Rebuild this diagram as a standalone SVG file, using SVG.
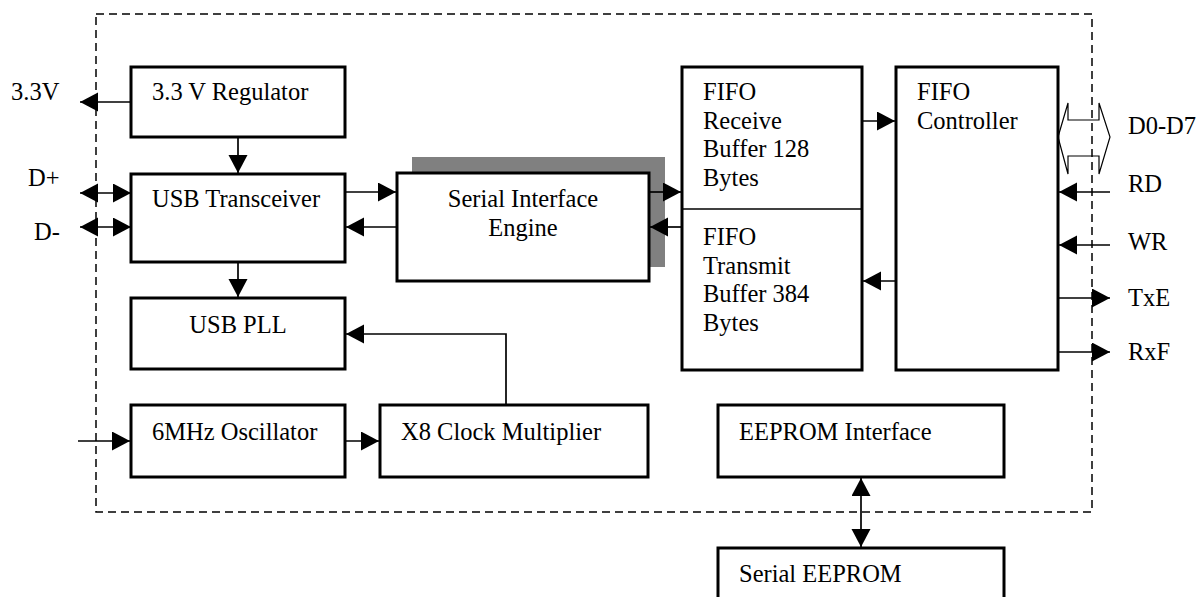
<svg xmlns="http://www.w3.org/2000/svg" width="1201" height="597" viewBox="0 0 1201 597">
<style>
text{font-family:"Liberation Serif","Times New Roman",serif;font-size:24.5px;fill:#000}
.box{fill:#fff;stroke:#000;stroke-width:3}
.c{fill:none;stroke:#000;stroke-width:1.7}
.a{marker-end:url(#arr)}
.b{marker-start:url(#arr);marker-end:url(#arr)}
.mid{text-anchor:middle}
</style>
<defs>
<marker id="arr" markerUnits="userSpaceOnUse" markerWidth="19" markerHeight="20" viewBox="0 0 19 20" refX="18" refY="9.5" orient="auto-start-reverse">
<path d="M0,0 L18,9.5 L0,19 z" fill="#000"/>
</marker>
</defs>
<rect x="96" y="14" width="996" height="498" fill="none" stroke="#000" stroke-width="1.5" stroke-dasharray="8 5"/>

<g id="regulator"><rect class="box" x="131" y="67" width="214" height="70"/><text x="152" y="100">3.3 V Regulator</text></g>
<g id="usb-transceiver"><rect class="box" x="131" y="174" width="214" height="88"/><text x="152" y="207">USB Transceiver</text></g>
<g id="usb-pll"><rect class="box" x="131" y="298" width="214" height="71"/><text class="mid" x="238" y="333">USB PLL</text></g>
<g id="oscillator"><rect class="box" x="131" y="405" width="214" height="72"/><text x="152" y="440">6MHz Oscillator</text></g>
<g id="clock-multiplier"><rect class="box" x="380" y="405" width="268" height="72"/><text x="401" y="440">X8 Clock Multiplier</text></g>
<g id="sie"><rect x="412" y="157" width="253" height="110" fill="#808080"/><rect class="box" x="397" y="173" width="252" height="108"/><text class="mid" x="523" y="207">Serial Interface</text><text class="mid" x="523" y="236">Engine</text></g>
<g id="fifo-buffers"><rect class="box" x="682" y="67" width="180" height="303"/><line x1="682" y1="209" x2="862" y2="209" stroke="#000" stroke-width="1.5"/>
<text x="703" y="100">FIFO</text><text x="703" y="129">Receive</text><text x="703" y="157">Buffer 128</text><text x="703" y="186">Bytes</text>
<text x="703" y="245">FIFO</text><text x="703" y="274">Transmit</text><text x="703" y="302">Buffer 384</text><text x="703" y="331">Bytes</text></g>
<g id="fifo-controller"><rect class="box" x="896" y="67" width="162" height="303"/><text x="917" y="100">FIFO</text><text x="917" y="129">Controller</text></g>
<g id="eeprom-interface"><rect class="box" x="718" y="405" width="286" height="72"/><text x="739" y="440">EEPROM Interface</text></g>
<g id="serial-eeprom"><rect class="box" x="718" y="548" width="286" height="60"/><text x="739" y="582">Serial EEPROM</text></g>

<g id="labels">
<text x="11" y="100">3.3V</text>
<text x="28" y="186">D+</text>
<text x="34" y="240">D-</text>
<text x="1128" y="134">D0-D7</text>
<text x="1128" y="192">RD</text>
<text x="1128" y="250">WR</text>
<text x="1128" y="306">TxE</text>
<text x="1128" y="360">RxF</text>
</g>

<g id="connectors">
<line class="c a" x1="131" y1="102" x2="80" y2="102"/>
<line class="c b" x1="80" y1="193" x2="131" y2="193"/>
<line class="c b" x1="80" y1="227" x2="131" y2="227"/>
<line class="c a" x1="238" y1="137" x2="238" y2="173"/>
<line class="c a" x1="238" y1="262" x2="238" y2="297"/>
<line class="c a" x1="345" y1="192" x2="396" y2="192"/>
<line class="c a" x1="397" y1="227" x2="346" y2="227"/>
<line class="c a" x1="649" y1="192" x2="681" y2="192"/>
<line class="c a" x1="682" y1="227" x2="650" y2="227"/>
<line class="c a" x1="862" y1="121" x2="895" y2="121"/>
<line class="c a" x1="896" y1="281" x2="863" y2="281"/>
<path class="c a" d="M506,405 V334 H346"/>
<line class="c a" x1="78" y1="441" x2="130" y2="441"/>
<line class="c a" x1="345" y1="441" x2="379" y2="441"/>
<line class="c b" x1="861" y1="478" x2="861" y2="547"/>
<line class="c a" x1="1110" y1="192" x2="1059" y2="192"/>
<line class="c a" x1="1110" y1="245" x2="1059" y2="245"/>
<line class="c a" x1="1058" y1="298" x2="1110" y2="298"/>
<line class="c a" x1="1058" y1="352" x2="1110" y2="352"/>
<polygon points="1058,137 1068,103 1068,120 1099,120 1099,103 1110,137 1099,174 1099,156 1068,156 1068,174" fill="none" stroke="#000" stroke-width="1.2"/>
</g>
</svg>
